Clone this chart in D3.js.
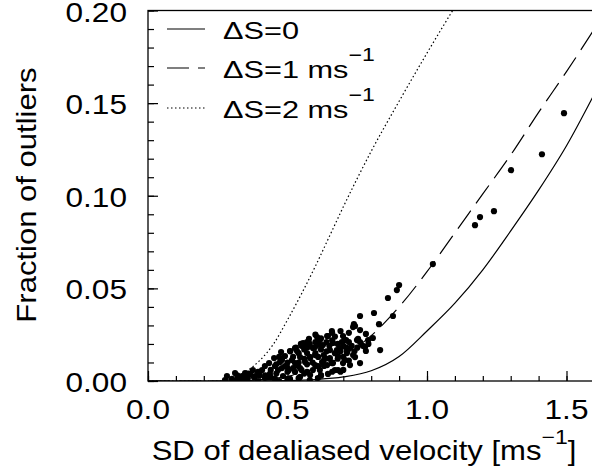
<!DOCTYPE html>
<html>
<head>
<meta charset="utf-8">
<script src="https://cdn.jsdelivr.net/npm/d3@7"></script>
<style>
  body { margin: 0; background: #fff; }
  svg { display: block; font-family: "Liberation Sans", Arial, sans-serif; }
</style>
</head>
<body>
<div id="chart"></div>
<script>
// tick values
let xTicks = [0.0, 0.5, 1.0, 1.5];
let yTicks = [0.00, 0.05, 0.10, 0.15, 0.20];

// model curves: [SD, fraction]
let curveS0 = [[0,0],[0.4,0],[0.5,0.0002],[0.6,0.0008],[0.7,0.0022],[0.8,0.0055],[0.9,0.0132],
  [1.0,0.027],[1.1,0.042],[1.2,0.060],[1.3,0.081],[1.4,0.103],[1.5,0.127],[1.6,0.155]];
let curveS1 = [[0,0],[0.3,0],[0.4,0.0007],[0.5,0.0025],[0.6,0.0068],[0.7,0.0135],[0.8,0.0245],
  [0.9,0.040],[1.0,0.059],[1.1,0.080],[1.2,0.101],[1.3,0.122],[1.4,0.145],[1.5,0.167],[1.6,0.19]];
let curveS2 = [[0,0],[0.25,0],[0.3,0.0012],[0.35,0.005],[0.4,0.011],[0.45,0.020],[0.5,0.033],
  [0.55,0.047],[0.6,0.062],[0.65,0.078],[0.7,0.094],[0.8,0.124],[0.9,0.151],[1.0,0.177],[1.1,0.202]];

// observed points
let sdObs = [1.491,1.412,1.301,1.240,1.190,1.172,1.021,0.900,0.892,0.860,0.810,0.760,0.878,0.828,0.760,
  0.781,0.738,0.735,0.749,0.832,0.781,0.699,0.699,0.710,0.645,0.606,0.609,0.548,0.534,0.509,
  0.452,0.434,0.742,0.663,0.631,0.283,0.312,0.348,0.376,0.409,0.473,0.491,0.516,0.570,0.591,
  0.627,0.663,0.688,0.713,0.735,0.789,0.806,0.778,0.760,0.753,0.742,0.695,0.706,0.652,0.616,
  0.642,0.616,0.599,0.573,0.556,0.624,0.642,0.659,0.616,0.591,0.570,0.634,0.677,0.713,0.724,
  0.301,0.330,0.358,0.384,0.394,0.419,0.437,0.455,0.466,0.484,0.498,0.509,0.527,0.538,0.545,
  0.563,0.581,0.599,0.609,0.645,0.670,0.545,0.527,0.491,0.455,0.419,0.394,0.366,0.337,0.319,
  0.276,0.581,0.599,0.527,0.563,0.480,0.652,0.681,0.706,0.724,0.681,0.545,0.477,0.577,0.659,
  0.430,0.400,0.350,0.470,0.505,0.560,0.620,0.690,
  0.32,0.34,0.36,0.38,0.40,0.42,0.44,0.44,0.46,0.46,0.48,0.48,0.50,0.50,0.52,0.52,0.53,0.54,
  0.54,0.55,0.56,0.56,0.57,0.58,0.58,0.59,0.60,0.60,0.61,0.61,0.62,0.62,0.63,0.63,0.64,0.64,
  0.65,0.65,0.66,0.66,0.67,0.67,0.68,0.68,0.69,0.70,0.70,0.71,0.72,0.72,0.73,0.74,0.75,0.76,
  0.77,0.79,0.47,0.51,0.55,0.57,0.60,0.66,0.69,0.72,0.58,0.54,0.50,0.62,0.66,0.70];
let fracObs = [0.1446,0.1224,0.1138,0.0917,0.0885,0.0841,0.0631,0.0518,0.0491,0.0448,0.0367,0.0351,0.0351,0.0307,0.0275,
  0.0254,0.0307,0.0291,0.0221,0.0167,0.0162,0.0097,0.0243,0.0221,0.0243,0.0237,0.0216,0.0200,0.0162,0.0162,
  0.0124,0.0097,0.0129,0.0097,0.0081,0.0027,0.0043,0.0043,0.0059,0.0059,0.0102,0.0135,0.0113,0.0151,0.0178,
  0.0194,0.0205,0.0178,0.0162,0.0140,0.0221,0.0232,0.0183,0.0097,0.0227,0.0297,0.0210,0.0221,0.0167,0.0194,
  0.0243,0.0221,0.0183,0.0183,0.0205,0.0102,0.0086,0.0097,0.0059,0.0059,0.0049,0.0124,0.0167,0.0151,0.0178,
  0.0011,0.0005,0.0016,0.0027,0.0000,0.0016,0.0038,0.0011,0.0059,0.0027,0.0076,0.0011,0.0049,0.0081,0.0022,
  0.0102,0.0032,0.0086,0.0016,0.0038,0.0059,0.0129,0.0097,0.0081,0.0081,0.0081,0.0049,0.0038,0.0027,0.0005,
  0.0005,0.0124,0.0140,0.0178,0.0194,0.0113,0.0124,0.0135,0.0113,0.0086,0.0059,0.0070,0.0156,0.0227,0.0270,
  0.0020,0.0030,0.0010,0.0000,0.0060,0.0040,0.0030,0.0050,
  0.003,0.002,0.004,0.002,0.005,0.003,0.006,0.002,0.004,0.009,0.007,0.012,0.005,0.010,0.007,0.013,0.018,0.010,
  0.015,0.006,0.012,0.017,0.009,0.013,0.020,0.010,0.015,0.021,0.008,0.013,0.017,0.023,0.011,0.014,0.021,0.016,
  0.012,0.019,0.022,0.010,0.015,0.024,0.020,0.012,0.016,0.019,0.013,0.018,0.021,0.011,0.019,0.016,0.018,0.021,
  0.019,0.020,0.013,0.016,0.019,0.021,0.025,0.026,0.027,0.026,0.0005,0.0015,0.001,0.003,0.005,0.006];

let legendLabels = ["ΔS=0", "ΔS=1", "ΔS=2"];
let legendDash = [null, "22,9", "1.5,2.5"];

let width = 592, height = 472;

let svg = d3.select('#chart').append('svg')
  .attr('width', width).attr('height', height);

let x = d3.scaleLinear().domain([0, 1.6]).range([148, 148 + 1.6 * 279]);
let y = d3.scaleLinear().domain([0, 0.2]).range([381, 10.5]);

svg.append('clipPath').attr('id', 'plotclip')
  .append('rect')
  .attr('x', x(0)).attr('y', y(0.2))
  .attr('width', x(1.6) - x(0)).attr('height', y(0) - y(0.2));

// ticks (inward)
function tickAxis(axis, tr) {
  svg.append('g').attr('transform', tr).call(axis)
    .call(g => g.select('.domain').remove())
    .call(g => g.selectAll('line').attr('stroke', '#000').attr('stroke-width', 1.2));
}
tickAxis(d3.axisBottom(x).tickValues(x.ticks(16)).tickSize(-5).tickFormat(''), `translate(0,${y(0)})`);
tickAxis(d3.axisBottom(x).tickValues(xTicks).tickSize(-10).tickFormat(''), `translate(0,${y(0)})`);
tickAxis(d3.axisLeft(y).tickValues(y.ticks(20)).tickSize(-6).tickFormat(''), `translate(${x(0)},0)`);
tickAxis(d3.axisLeft(y).tickValues(yTicks).tickSize(-10).tickFormat(''), `translate(${x(0)},0)`);

// frame
svg.append('rect')
  .attr('x', x(0)).attr('y', y(0.2))
  .attr('width', x(1.6) - x(0)).attr('height', y(0) - y(0.2))
  .attr('fill', 'none').attr('stroke', '#000').attr('stroke-width', 1.3);

// tick labels
svg.selectAll('.xlab').data(xTicks).enter().append('text')
  .attr('class', 'xlab')
  .attr('x', d => x(d)).attr('y', 419)
  .attr('text-anchor', 'middle').attr('font-size', 27).attr('data-s', 1.17)
  .text(d3.format('.1f'));
svg.selectAll('.ylab').data(yTicks).enter().append('text')
  .attr('class', 'ylab')
  .attr('x', 127).attr('y', d => y(d) + 11)
  .attr('text-anchor', 'end').attr('font-size', 27).attr('data-s', 1.17)
  .text(d3.format('.2f'));

// axis titles
let xt = svg.append('text')
  .attr('x', 364).attr('y', 460)
  .attr('text-anchor', 'middle').attr('font-size', 27).attr('data-s', 1.15);
xt.append('tspan').text('SD of dealiased velocity [ms');
xt.append('tspan').attr('font-size', 20).attr('dy', -16).text('−1');
xt.append('tspan').attr('dy', 16).text(']');

svg.append('text')
  .attr('class', 'ytitle')
  .attr('text-anchor', 'middle').attr('font-size', 27)
  .attr('data-x', 36).attr('data-y', 195).attr('data-s', 1.15)
  .text('Fraction of outliers');

// curves
let line = d3.line()
  .x(d => x(d[0])).y(d => y(d[1]))
  .curve(d3.curveMonotoneX);
[curveS0, curveS1, curveS2].forEach(function(c, i) {
  svg.append('path')
    .attr('d', line(c))
    .attr('clip-path', 'url(#plotclip)')
    .attr('fill', 'none').attr('stroke', '#000').attr('stroke-width', 1.2)
    .attr('stroke-dasharray', legendDash[i]);
});

// points
svg.append('g').attr('clip-path', 'url(#plotclip)')
  .selectAll('circle').data(sdObs).enter().append('circle')
  .attr('cx', d => x(d)).attr('cy', (d, i) => y(fracObs[i]))
  .attr('r', 3.1).attr('fill', '#000');

// legend
let legY = [39, 78, 118];
legendLabels.forEach(function(lab, i) {
  svg.append('line')
    .attr('x1', 167).attr('x2', 205)
    .attr('y1', legY[i] - 10).attr('y2', legY[i] - 10)
    .attr('stroke', '#000').attr('stroke-width', 1.2)
    .attr('stroke-dasharray', legendDash[i]);
  let t = svg.append('text').attr('x', 223).attr('y', legY[i])
    .attr('font-size', 24).attr('data-s', 1.28);
  t.append('tspan').text(lab);
  if (i > 0) {
    t.append('tspan').text(' ms');
    t.append('tspan').attr('font-size', 18).attr('dy', -17).text('−1');
  }
});

// widen glyphs like the original
svg.selectAll('text').each(function() {
  let t = d3.select(this);
  let s = t.attr('data-s') || 1;
  if (t.classed('ytitle')) {
    t.attr('transform', `translate(${t.attr('data-x')},${t.attr('data-y')}) rotate(-90) scale(${s},1)`);
    return;
  }
  let tx = +t.attr('x'), ty = +t.attr('y');
  t.attr('x', 0).attr('y', 0)
    .attr('transform', `translate(${tx},${ty}) scale(${s},1)`);
});
</script>
</body>
</html>
